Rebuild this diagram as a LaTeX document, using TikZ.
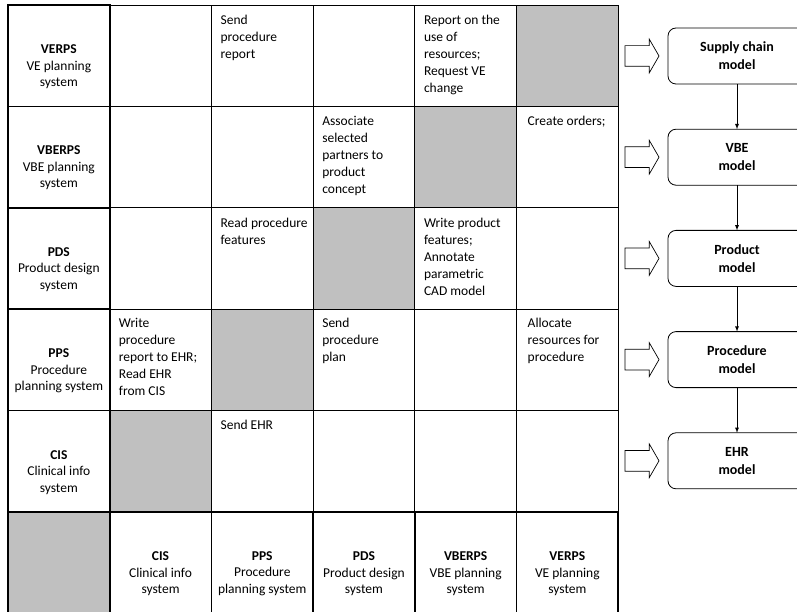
\documentclass[tikz,border=0pt]{standalone}
\usepackage{fontspec}
\setmainfont{Carlito}
\usepackage{tikz}
\usetikzlibrary{shapes.arrows, arrows, positioning}
\definecolor{cellgray}{RGB}{192,192,192}
\tikzstyle{cell} = [rectangle, draw=black, line width=0.8pt, minimum width=101.7pt, minimum height=101.4pt, inner sep=0pt, outer sep=0pt, anchor=north west]
\tikzstyle{off} = [cell, fill=cellgray]
\tikzstyle{sys} = [cell, line width=1.6pt]
\tikzstyle{sysname} = [align=center, inner sep=0pt, font=\fontsize{13.5pt}{16.5pt}\selectfont]
\tikzstyle{msg} = [anchor=north west, align=left, inner sep=0pt, font=\fontsize{13.5pt}{17pt}\selectfont]
\tikzstyle{model} = [rectangle, rounded corners=8pt, draw=black, line width=0.8pt, outer sep=0pt, minimum width=138pt, minimum height=56pt, align=center, font=\fontsize{14pt}{18pt}\selectfont\bfseries]
\tikzstyle{feed} = [single arrow, draw=black, line width=0.7pt, outer sep=0pt, minimum height=34pt, minimum width=33pt, inner sep=10pt, single arrow head extend=6.5pt, single arrow tip angle=120]
\tikzstyle{arrow} = [line width=0.8pt,->,>=latex]

\begin{document}
\begin{tikzpicture}[x=1pt, y=-1pt, node distance = 45.2pt]
	\useasboundingbox (0,0) rectangle (797,612);
	% interaction cells
	\foreach \r in {1,...,5}{
		\foreach \c in {2,...,6}{
			\pgfmathtruncatemacro{\s}{\r+\c}
			\ifnum\s=7
				\node[off] (c\r\c) at ({8+(\c-1)*101.7},{5+(\r-1)*101.4}) {};
			\else
				\node[cell] (c\r\c) at ({8+(\c-1)*101.7},{5+(\r-1)*101.4}) {};
			\fi
		}
	}
	% system rows
	\node[sys] (VERPS) at (8,5) {};
	\node[sys] (VBERPS) at (8,106.4) {};
	\node[sys] (PDS) at (8,207.8) {};
	\node[sys] (PPS) at (8,309.2) {};
	\node[sys] (CIS) at (8,410.6) {};
	\node[sysname] at ([yshift=-11pt]VERPS.center) {\textbf{VERPS}\\VE planning\\system};
	\node[sysname] at ([yshift=-11pt]VBERPS.center) {\textbf{VBERPS}\\VBE planning\\system};
	\node[sysname] at ([yshift=-11pt]PDS.center) {\textbf{PDS}\\Product design\\system};
	\node[sysname] at ([yshift=-11pt]PPS.center) {\textbf{PPS}\\Procedure\\planning system};
	\node[sysname] at ([yshift=-11pt]CIS.center) {\textbf{CIS}\\Clinical info\\system};
	% system columns
	\node[sys, fill=cellgray] (Corner) at (8,512) {};
	\node[sys] (CISb) at (109.7,512) {};
	\node[sys] (PPSb) at (211.4,512) {};
	\node[sys] (PDSb) at (313.1,512) {};
	\node[sys] (VBERPSb) at (414.8,512) {};
	\node[sys] (VERPSb) at (516.5,512) {};
	\node[sysname] at ([yshift=-11pt]CISb.center) {\textbf{CIS}\\Clinical info\\system};
	\node[sysname] at ([yshift=-11pt]PPSb.center) {\textbf{PPS}\\Procedure\\planning system};
	\node[sysname] at ([yshift=-11pt]PDSb.center) {\textbf{PDS}\\Product design\\system};
	\node[sysname] at ([yshift=-11pt]VBERPSb.center) {\textbf{VBERPS}\\VBE planning\\system};
	\node[sysname] at ([yshift=-11pt]VERPSb.center) {\textbf{VERPS}\\VE planning\\system};
	% messages
	\node[msg] at ([xshift=9pt, yshift=-10pt]c13.north west) {Send\\procedure\\report};
	\node[msg] at ([xshift=9pt, yshift=-10pt]c15.north west) {Report on the\\use of\\resources;\\Request VE\\change};
	\node[msg] at ([xshift=9pt, yshift=-10pt]c24.north west) {Associate\\selected\\partners to\\product\\concept};
	\node[msg] at ([xshift=11pt, yshift=-10pt]c26.north west) {Create orders;};
	\node[msg] at ([xshift=9pt, yshift=-10pt]c33.north west) {Read procedure\\features};
	\node[msg] at ([xshift=9pt, yshift=-10pt]c35.north west) {Write product\\features;\\Annotate\\parametric\\CAD model};
	\node[msg] at ([xshift=9pt, yshift=-9pt]c42.north west) {Write\\procedure\\report to EHR;\\Read EHR\\from CIS};
	\node[msg] at ([xshift=9pt, yshift=-9pt]c44.north west) {Send\\procedure\\plan};
	\node[msg] at ([xshift=11pt, yshift=-9pt]c46.north west) {Allocate\\resources for\\procedure};
	\node[msg] at ([xshift=9pt, yshift=-9pt]c53.north west) {Send EHR};
	% models
	\node (Supply) [model] at (737,56) {Supply chain\\model};
	\node (VBE) [model, below = of Supply] {VBE\\model};
	\node (Product) [model, below = of VBE] {Product\\model};
	\node (Procedure) [model, below = of Product] {Procedure\\model};
	\node (EHR) [model, below = of Procedure] {EHR\\model};
	\node (FeedSupply) [feed, left = 9pt of Supply] {};
	\node (FeedVBE) [feed, left = 9pt of VBE] {};
	\node (FeedProduct) [feed, left = 9pt of Product] {};
	\node (FeedProcedure) [feed, left = 9pt of Procedure] {};
	\node (FeedEHR) [feed, left = 9pt of EHR] {};
	\draw [arrow] (Supply) -- (VBE);
	\draw [arrow] (VBE) -- (Product);
	\draw [arrow] (Product) -- (Procedure);
	\draw [arrow] (Procedure) -- (EHR);
\end{tikzpicture}
\end{document}
